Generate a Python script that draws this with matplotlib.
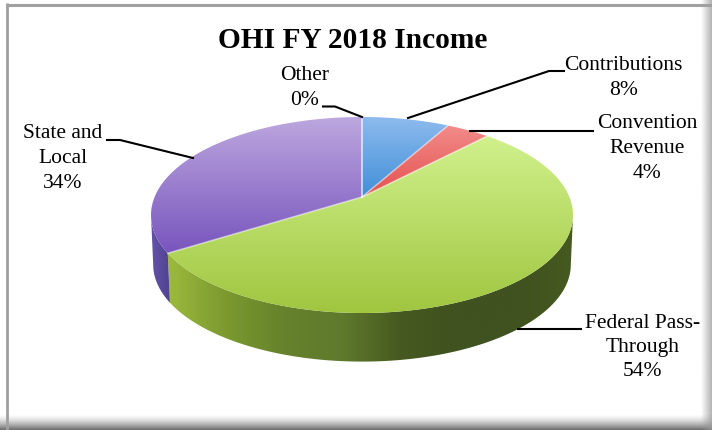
"""
OHI FY 2018 income as a tilted 3D style pie.
Slices are projected by hand onto a pixel sized axes since matplotlib has no 3D pie.
"""

import numpy as np
import matplotlib
matplotlib.use("Agg")
import matplotlib.pyplot as plt
from matplotlib.colors import LinearSegmentedColormap
from matplotlib.patches import Polygon

categories = ["Other", "Contributions", "Convention\nRevenue", "Federal Pass-\nThrough", "State and\nLocal"]
shares = [0, 8, 4, 54, 34]

top_colors = [
    ("#9cc0ee", "#3f8fd8"),
    ("#8fbbee", "#3f8fd8"),
    ("#f28c8a", "#e4504e"),
    ("#d0f18c", "#a0c640"),
    ("#bda8df", "#7855bd"),
]
side_colors = [
    ["#3f8fd8", "#3f8fd8"],
    ["#3f8fd8", "#3f8fd8"],
    ["#b03c3a", "#b03c3a"],
    ["#9cb93e", "#7b992f", "#66822c", "#5f7a2c", "#46591f", "#3f5220", "#3f5220", "#46591f"],
    ["#6553a8", "#4f4390"],
]

# label text centre x, first line y, leader line
label_x = [304.5, 623.5, 647, 642.5, 63]
label_y = [76, 66, 124, 323, 134]
leaders = [
    [(323, 106.5), (335, 106.5), (362, 117)],
    [(408, 118), (549, 71), (564, 71)],
    [(470, 131), (593, 131)],
    [(518, 329), (581, 329)],
    [(107, 140), (120, 140), (193, 158)],
]

CX, CY = 362, 197
RX, RY, TILT = 207.4, 94.7, 0.1837
DEPTH = 50


def project(theta, r=1.0, depth=0.0):
    # theta in degrees, clockwise from the top of the pie
    t = np.radians(theta)
    x, y = r * np.sin(t), r * np.cos(t)
    w = 1 + TILT * y
    return CX + RX * x / w, CY - RY * y / w + depth


def gradient(ax, colors, poly, vertical=True):
    cmap = LinearSegmentedColormap.from_list("g", colors)
    xy = poly.get_xy()
    x0, x1, y0, y1 = xy[:, 0].min(), xy[:, 0].max(), xy[:, 1].min(), xy[:, 1].max()
    ramp = np.linspace(0, 1, 256)
    ramp = ramp[:, None] if vertical else ramp[None, :]
    im = ax.imshow(ramp, cmap=cmap, extent=(x0, x1, y1, y0), origin="upper",
                   aspect="auto", interpolation="bilinear", zorder=poly.get_zorder())
    ax.add_patch(poly)
    poly.set_visible(False)
    im.set_clip_path(poly.get_path(), poly.get_transform())


def main():
    fig = plt.figure(figsize=(7.12, 4.30), dpi=100, facecolor="white")
    ax = fig.add_axes([0, 0, 1, 1])
    ax.axis("off")

    plt.rcParams["font.family"] = ["Liberation Serif", "DejaVu Serif"]

    # frame and shading
    shade = np.ones((64, 1, 4))
    shade[:, :, :3] = 0.42
    shade[:, :, 3] = np.linspace(0, 1, 64)[:, None] ** 1.5
    ax.imshow(shade, extent=(0, 712, 430, 414), aspect="auto", zorder=1)
    shade = np.ones((1, 64, 4))
    shade[:, :, :3] = 0.6
    shade[:, :, 3] = np.linspace(0, 0.75, 64)[None, :]
    ax.imshow(shade, extent=(701, 712, 430, 0), aspect="auto", zorder=1)
    ax.plot([7, 7], [3, 430], color="#a0a0a0", lw=2, solid_capstyle="butt", zorder=2)
    ax.plot([6, 712], [4.5, 4.5], color="#a0a0a0", lw=2.2, solid_capstyle="butt", zorder=2)

    edges = np.concatenate([[0], np.cumsum(shares)]) * 3.6

    # side wall, only the front of the pie shows
    side_from, side_to = 100.6, 259.4
    for i in range(len(shares)):
        a, b = max(edges[i], side_from), min(edges[i + 1], side_to)
        if b <= a:
            continue
        t = np.linspace(a, b, 120)
        tx, ty = project(t)
        bx, by = project(t, r=0.99, depth=DEPTH)
        pts = np.column_stack([np.r_[tx, bx[::-1]], np.r_[ty, by[::-1]]])
        gradient(ax, side_colors[i], Polygon(pts, closed=True, zorder=3), vertical=False)

    # top face
    for i in range(len(shares)):
        if shares[i] == 0:
            continue
        t = np.linspace(edges[i], edges[i + 1], 160)
        ex, ey = project(t)
        pts = np.column_stack([np.r_[CX, ex], np.r_[CY, ey]])
        gradient(ax, top_colors[i], Polygon(pts, closed=True, zorder=4))

    # pale seams between the slices
    for e in edges[:-1]:
        ex, ey = project(e)
        ax.plot([CX, ex], [CY, ey], color="white", alpha=0.45, lw=1.2, zorder=5)

    # leaders and labels
    for pts in leaders:
        xs, ys = zip(*pts)
        ax.plot(xs, ys, color="black", lw=1.5, solid_joinstyle="miter", zorder=6)
    for name, val, x, y in zip(categories, shares, label_x, label_y):
        for k, line in enumerate(f"{name}\n{val}%".split("\n")):
            ax.text(x, y + k * 24.5, line, ha="center", va="center", fontsize=15.5,
                    family="Liberation Serif", color="black", zorder=7)

    ax.text(352.5, 40, "OHI FY 2018 Income", ha="center", va="center", fontsize=21.2,
            fontweight="bold", family="Liberation Serif", color="black", zorder=7)

    ax.set_xlim(0, 712)
    ax.set_ylim(430, 0)
    fig.savefig("out.png", dpi=100)


if __name__ == "__main__":
    main()
